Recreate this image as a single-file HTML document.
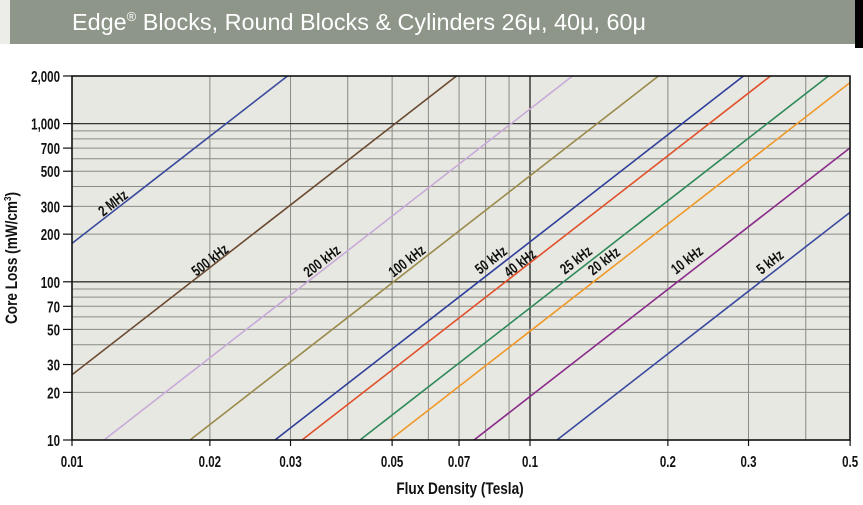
<!DOCTYPE html>
<html><head><meta charset="utf-8"><style>
body{margin:0;background:#fff;width:863px;height:500px;overflow:hidden;font-family:"Liberation Sans",sans-serif}
</style></head><body>
<svg width="863" height="500" xmlns="http://www.w3.org/2000/svg">
<rect x="0" y="0" width="10" height="44" fill="#ecece8"/>
<rect x="10" y="0" width="845" height="44" fill="#8e9689"/>
<rect x="855" y="0" width="8" height="48" fill="#000"/>
<text x="72" y="30" fill="#fff" font-size="23.4" font-family="Liberation Sans, sans-serif">Edge<tspan font-size="13" dy="-9">®</tspan><tspan dy="9"> Blocks, Round Blocks &amp; Cylinders 26μ, 40μ, 60μ</tspan></text>
<defs><clipPath id="c"><rect x="72" y="76" width="778" height="364"/></clipPath></defs>
<rect x="72" y="76" width="778" height="364" fill="#e8e8e2"/>
<g id="grid" stroke="#8a8a86" stroke-width="1"></g>
<g id="lines" clip-path="url(#c)" stroke-width="1.6" fill="none"></g>
<g id="labels" font-family="Liberation Sans, sans-serif" font-weight="bold" font-size="15" fill="#111"></g>
<rect x="72" y="76" width="778" height="364" fill="none" stroke="#111" stroke-width="1.6"/>
<g id="ticks" font-family="Liberation Sans, sans-serif" font-weight="bold" font-size="16" fill="#111"></g>
<g transform="translate(17,258) rotate(-90) scale(0.8,1)"><text x="0" y="0" text-anchor="middle" font-family="Liberation Sans, sans-serif" font-weight="bold" font-size="17" fill="#111">Core Loss (mW/cm<tspan font-size="10" dy="-6">3</tspan><tspan dy="6">)</tspan></text></g>
<g transform="translate(460,494) scale(0.8,1)"><text x="0" y="0" text-anchor="middle" font-family="Liberation Sans, sans-serif" font-weight="bold" font-size="17" fill="#111">Flux Density (Tesla)</text></g>
</svg>
<script>
const NS="http://www.w3.org/2000/svg";
function el(p,t,a,txt){const e=document.createElementNS(NS,t);for(const k in a)e.setAttribute(k,a[k]);if(txt)e.textContent=txt;p.appendChild(e);return e;}
const X=v=>72+458*Math.log10(v/0.01), Y=v=>440-158.2*Math.log10(v/10);
const g=document.getElementById('grid');
[0.02,0.03,0.04,0.05,0.06,0.07,0.08,0.09,0.1,0.2,0.3,0.4].forEach(v=>{const x=X(v);el(g,'line',{x1:x,x2:x,y1:76,y2:440,stroke:v==0.1?'#222':'#8a8a86','stroke-width':v==0.1?1.3:1});});
[20,30,40,50,60,70,80,90,100,200,300,400,500,600,700,800,900,1000].forEach(v=>{const y=Y(v);el(g,'line',{x1:72,x2:850,y1:y,y2:y,stroke:(v==100||v==1000)?'#333':'#8a8a86','stroke-width':(v==100||v==1000)?1.3:1});});
const L=document.getElementById('lines'),s=0.777;
const series=[[-181,'#3a4a9c'],[-12,'#6b4a32'],[104,'#c8aad8'],[190,'#9a8a4a'],[275,'#2e3f9a'],[302,'#e0502a'],[360,'#2e8a5a'],[390,'#f0982a'],[474,'#8a2a8a'],[557,'#3a4aa0']];
series.forEach(([bx,c])=>{const x2=bx+364/s+50;el(L,'line',{x1:bx,y1:440,x2:x2,y2:440-(x2-bx)*s,stroke:c});});
const lab=document.getElementById('labels');
[['2 MHz',113,203],['500 kHz',210,260],['200 kHz',322,261],['100 kHz',407,261],['50 kHz',491,260],['40 kHz',520,263],['25 kHz',576,260],['20 kHz',604,261],['10 kHz',687,260],['5 kHz',770,262]].forEach(([t,x,y])=>{el(lab,'text',{x:0,y:5,'text-anchor':'middle',transform:`translate(${x},${y}) rotate(-37.8) scale(0.75,1)`},t);});
const tk=document.getElementById('ticks');
[[10,'10'],[20,'20'],[30,'30'],[50,'50'],[70,'70'],[100,'100'],[200,'200'],[300,'300'],[500,'500'],[700,'700'],[1000,'1,000'],[2000,'2,000']].forEach(([v,t])=>{const y=Y(v);el(tk,'line',{x1:63,x2:72,y1:y,y2:y,stroke:'#111','stroke-width':1.2});el(tk,'text',{x:0,y:0,'text-anchor':'end',transform:`translate(60,${y+6}) scale(0.72,1)`},t);});
[[0.01,'0.01'],[0.02,'0.02'],[0.03,'0.03'],[0.05,'0.05'],[0.07,'0.07'],[0.1,'0.1'],[0.2,'0.2'],[0.3,'0.3'],[0.5,'0.5']].forEach(([v,t])=>{const x=X(v);el(tk,'line',{x1:x,x2:x,y1:440,y2:446,stroke:'#111','stroke-width':1.2});el(tk,'text',{x:0,y:0,'text-anchor':'middle',transform:`translate(${x},467) scale(0.72,1)`},t);});
</script>
</body></html>
